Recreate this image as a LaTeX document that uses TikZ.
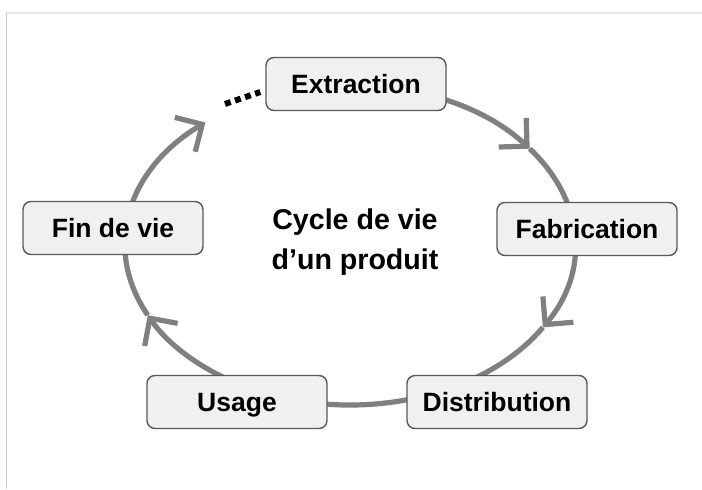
\documentclass[tikz,border=0pt]{standalone}
\usepackage{fontspec}
\setmainfont{Liberation Sans}
\usepackage{tikz}
\usetikzlibrary
  {
    arrows.meta,              % barbed arrow heads
    calc,                     % points on the ellipse
    positioning,              % place nodes relative to other nodes
  }

\begin{document}
\begin{tikzpicture}
    [
      x=0.5pt, y=0.5pt,
      lifestage/.style=
        {
          rectangle,
          rounded corners=4pt,
          minimum width=90pt,
          minimum height=26.5pt,
          text height=9.6pt,
          text depth=0pt,
          line width=0.7pt,
          draw=black!65,
          fill=black!6,
          font=\fontsize{13.25pt}{16pt}\selectfont\bfseries,
        },
      cycleline/.style=
        {
          line width=2.6pt,
          draw=black!50,
          -{Straight Barb[length=10pt, width=20pt]},
        },
      dotline/.style=
        {
          line width=3pt,
          dash pattern=on 3pt off 2.3pt,
        },
    ]
    \useasboundingbox (0,0) rectangle (702,-489);
    % light frame
    \draw [black!10, line width=1pt] (6,-13) -- (702,-13);
    \draw [black!18, line width=0.5pt] (6,-13) -- (6,-489);

    \coordinate (cyc) at (350,-245);
    \foreach \a/\b in {95/37, 37/-31, -31/-154, -154/-230}
      \draw [cycleline] ([shift={(\a:225 and 160)}]cyc)
        arc [start angle=\a, end angle=\b, x radius=225, y radius=160];

    \node (extr) [lifestage] at (356,-84) {Extraction};
    \node (fabr) [lifestage] at (587,-229) {Fabrication};
    \node (dist) [lifestage] at (497,-402) {Distribution};
    \node (usag) [lifestage] at (237,-402) {Usage};
    \node (fin) [lifestage] at (113,-228) {Fin de vie};

    \node (title) [align=center, font=\fontsize{14.3pt}{20pt}\selectfont\bfseries]
      at (355,-242) {Cycle de vie\\d’un produit};

    % open end of the cycle
    \coordinate (gap) at (225,-104);
    \coordinate (gapend) at ([shift={(-5,-8)}]extr.west);
    \draw [dotline] (gap) -- (gapend);
  \end{tikzpicture}
\end{document}
